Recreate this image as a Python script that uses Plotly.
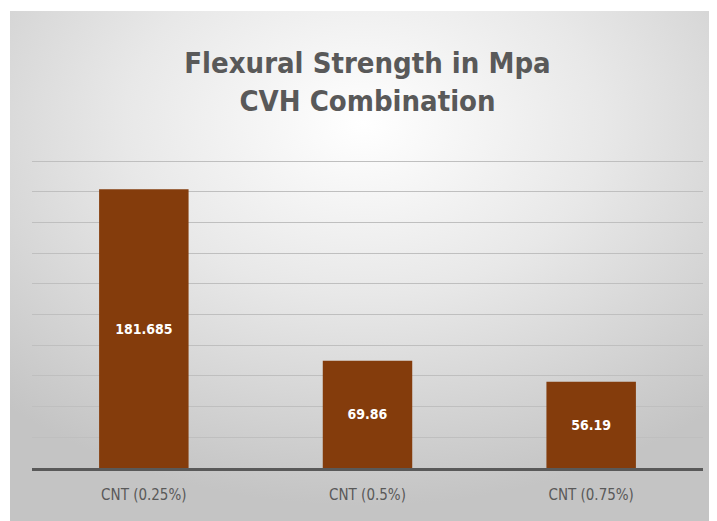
import base64
import plotly.graph_objects as go

categories = ["CNT (0.25%)", "CNT (0.5%)", "CNT (0.75%)"]
strength = [181.685, 69.86, 56.19]
labels = ["181.685", "69.86", "56.19"]

# radial grey gradient used as the chart-area background
svg = """<svg xmlns='http://www.w3.org/2000/svg' width='707' height='510' viewBox='0 0 707 510' preserveAspectRatio='none'>
<defs><radialGradient id='g' cx='50%' cy='22%' r='75%' fx='50%' fy='22%'>
<stop offset='0' stop-color='#ffffff'/><stop offset='0.45' stop-color='#e8e8e8'/>
<stop offset='1' stop-color='#c4c4c4'/></radialGradient></defs>
<rect width='707' height='510' fill='url(#g)'/></svg>"""
bg = "data:image/svg+xml;base64," + base64.b64encode(svg.encode()).decode()

# page body has an 8px margin, so the figure is 8px smaller than the window
W, H = 709, 513
L, R, T, B = 24, 14, 148, 53
pw, ph = W - L - R, H - T - B
FONT = "Liberation Sans Narrow, DejaVu Sans Condensed, Arial"

fig = go.Figure()
fig.add_trace(go.Bar(
    x=categories,
    y=strength,
    text=labels,
    textposition="inside",
    insidetextanchor="middle",
    textangle=0,
    textfont=dict(family=FONT, size=14, color="white"),
    texttemplate="<b>%{text}</b>",
    marker=dict(color="#843c0c", line=dict(width=0)),
    hoverinfo="skip",
))

fig.update_layout(
    width=W, height=H,
    title=dict(
        text="<b>Flexural Strength in Mpa<br>CVH Combination</b>",
        x=0.5, xref="paper", y=1 - 65 / H, yanchor="middle",
        font=dict(family=FONT, size=29, color="#595959"),
    ),
    paper_bgcolor="white",
    plot_bgcolor="rgba(0,0,0,0)",
    margin=dict(l=L, r=R, t=T, b=B, pad=0),
    bargap=0.6,
    showlegend=False,
    xaxis=dict(
        showgrid=False, ticks="", showline=True, linecolor="#595959", linewidth=2.5,
        tickfont=dict(family=FONT, size=15, color="#595959"),
        ticklabelstandoff=11,
    ),
    yaxis=dict(
        range=[0, 203.3], tickvals=list(range(20, 201, 20)), showticklabels=False, showgrid=True,
        gridcolor="#bfbfbf", gridwidth=1, zeroline=False, showline=False, fixedrange=True,
    ),
    images=[dict(
        source=bg, xref="paper", yref="paper",
        x=(2 - L) / pw, y=1 + (T - 3) / ph,
        sizex=(W - 2) / pw, sizey=(H - 3) / ph,
        xanchor="left", yanchor="top", sizing="stretch", layer="below",
    )],
)

fig.write_html("out.html")
